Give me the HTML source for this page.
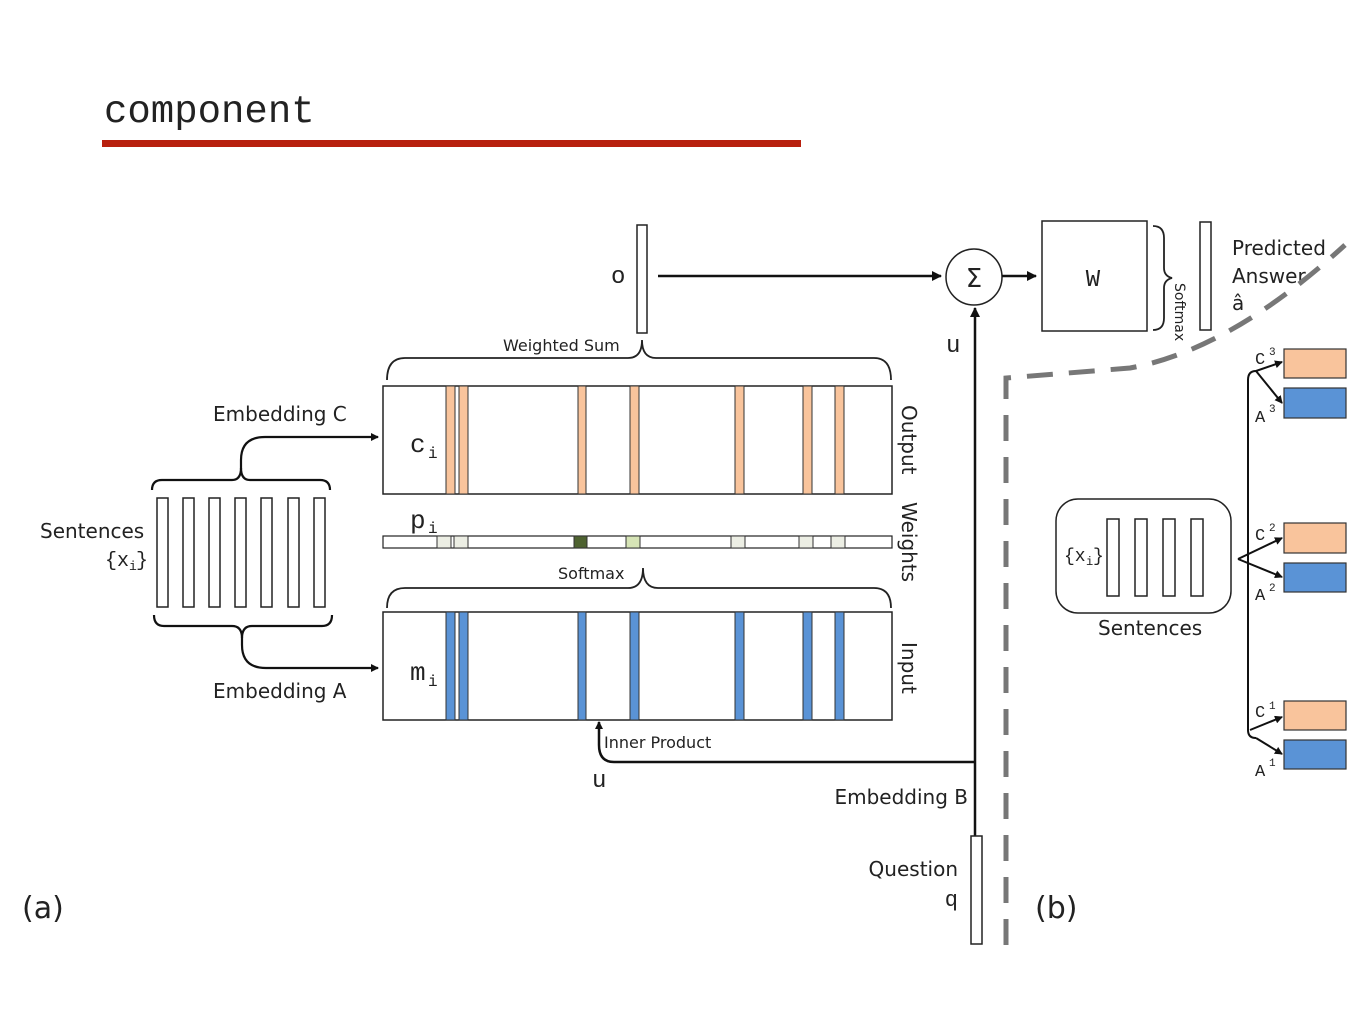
<!DOCTYPE html>
<html><head><meta charset="utf-8"><style>
html,body{margin:0;padding:0;background:#fff;}
svg{display:block;}
.s{font-family:"DejaVu Sans","Liberation Sans",sans-serif;fill:#222;}
.m{font-family:"Liberation Mono","DejaVu Sans Mono",monospace;fill:#222;}
</style></head><body>
<svg width="1365" height="1024" viewBox="0 0 1365 1024" xmlns="http://www.w3.org/2000/svg">
<defs>
<marker id="ar" markerWidth="10" markerHeight="10" refX="9" refY="5" orient="auto" markerUnits="userSpaceOnUse">
<path d="M0,0 L10,5 L0,10 z" fill="#111"/></marker>
<marker id="ar2" markerWidth="8" markerHeight="8" refX="7" refY="4" orient="auto" markerUnits="userSpaceOnUse">
<path d="M0,0 L8,4 L0,8 z" fill="#111"/></marker>
</defs>
<text x="104" y="122" class="m" font-size="39">component</text>
<rect x="102" y="140" width="699" height="7" fill="#b8200e"/>

<rect x="637" y="225" width="10" height="108" fill="#fff" stroke="#222" stroke-width="1.5"/>
<text x="611" y="283" class="m" font-size="24">o</text>
<line x1="658" y1="276" x2="941" y2="276" stroke="#111" stroke-width="2.5" marker-end="url(#ar)"/>
<circle cx="974" cy="277" r="28" fill="#fff" stroke="#222" stroke-width="1.5"/>
<text x="974" y="287" class="s" font-size="26" text-anchor="middle">Σ</text>
<line x1="1002" y1="276" x2="1036" y2="276" stroke="#111" stroke-width="2.5" marker-end="url(#ar)"/>
<rect x="1042" y="221" width="105" height="110" fill="#fff" stroke="#222" stroke-width="1.5"/>
<text x="1093" y="286" class="m" font-size="24" text-anchor="middle">W</text>
<path d="M1153,226 Q1164,226 1164,238 L1164,268 Q1164,276 1172,278 Q1164,280 1164,288 L1164,318 Q1164,330 1153,330" fill="none" stroke="#222" stroke-width="1.8"/>
<text transform="translate(1175,283) rotate(90)" class="s" font-size="14">Softmax</text>
<rect x="1200" y="222" width="11" height="108" fill="#fff" stroke="#222" stroke-width="1.5"/>
<text x="1232" y="255" class="s" font-size="20">Predicted</text>
<text x="1232" y="283" class="s" font-size="20">Answer</text>
<text x="1232" y="310" class="s" font-size="20">â</text>

<path d="M1006,945 L1006,378 L1130,368 Q1230,350 1345,245" fill="none" stroke="#777" stroke-width="5" stroke-dasharray="26 16"/>

<line x1="975" y1="836" x2="975" y2="308" stroke="#111" stroke-width="2.5" marker-end="url(#ar)"/>
<text x="946" y="352" class="m" font-size="24">u</text>
<rect x="971" y="836" width="11" height="108" fill="#fff" stroke="#222" stroke-width="1.5"/>
<text x="958" y="876" class="s" font-size="20" text-anchor="end">Question</text>
<text x="958" y="906" class="m" font-size="22" text-anchor="end">q</text>
<text x="968" y="804" class="s" font-size="20" text-anchor="end">Embedding B</text>
<path d="M975,762 L614,762 Q599,762 599,745 L599,722" fill="none" stroke="#111" stroke-width="2.5" marker-end="url(#ar2)"/>
<text x="604" y="748" class="s" font-size="16">Inner Product</text>
<text x="592" y="787" class="m" font-size="24">u</text>

<path d="M387,380 Q387,358 405,358 L628,358 Q642,358 642,340 Q642,358 656,358 L874,358 Q891,358 891,380" fill="none" stroke="#222" stroke-width="1.8"/>
<text x="503" y="351" class="s" font-size="16">Weighted Sum</text>

<rect x="383" y="386" width="509" height="108" fill="#fff" stroke="#222" stroke-width="1.5"/>
<g fill="#f9c49c" stroke="#333" stroke-width="1">
<rect x="446" y="386" width="9" height="108"/><rect x="459" y="386" width="9" height="108"/>
<rect x="578" y="386" width="8" height="108"/><rect x="630" y="386" width="9" height="108"/>
<rect x="735" y="386" width="9" height="108"/><rect x="803" y="386" width="9" height="108"/>
<rect x="835" y="386" width="9" height="108"/></g>
<text x="410" y="452" class="m" font-size="26">c</text><text x="428" y="458" class="m" font-size="16">i</text>

<rect x="383" y="536" width="509" height="12" fill="#fff" stroke="#222" stroke-width="1.2"/>
<g stroke="#333" stroke-width="1">
<rect x="437" y="536" width="14" height="12" fill="#eceee4"/><rect x="454" y="536" width="14" height="12" fill="#eceee4"/>
<rect x="574" y="536" width="13" height="12" fill="#4e6230"/><rect x="626" y="536" width="14" height="12" fill="#d6e4b6"/>
<rect x="731" y="536" width="14" height="12" fill="#eceee4"/><rect x="799" y="536" width="14" height="12" fill="#eceee4"/>
<rect x="831" y="536" width="14" height="12" fill="#eceee4"/></g>
<text x="410" y="528" class="m" font-size="26">p</text><text x="428" y="533" class="m" font-size="16">i</text>

<path d="M387,608 Q387,588 405,588 L628,588 Q643,588 643,568 Q643,588 658,588 L874,588 Q891,588 891,608" fill="none" stroke="#222" stroke-width="1.8"/>
<text x="558" y="579" class="s" font-size="16">Softmax</text>

<rect x="383" y="612" width="509" height="108" fill="#fff" stroke="#222" stroke-width="1.5"/>
<g fill="#5a93d6" stroke="#333" stroke-width="1">
<rect x="446" y="612" width="9" height="108"/><rect x="459" y="612" width="9" height="108"/>
<rect x="578" y="612" width="8" height="108"/><rect x="630" y="612" width="9" height="108"/>
<rect x="735" y="612" width="9" height="108"/><rect x="803" y="612" width="9" height="108"/>
<rect x="835" y="612" width="9" height="108"/></g>
<text x="410" y="680" class="m" font-size="26">m</text><text x="428" y="686" class="m" font-size="16">i</text>

<text transform="translate(902,405) rotate(90)" class="s" font-size="20">Output</text>
<text transform="translate(902,502) rotate(90)" class="s" font-size="20">Weights</text>
<text transform="translate(902,642) rotate(90)" class="s" font-size="20">Input</text>

<g fill="#fff" stroke="#222" stroke-width="1.5">
<rect x="157" y="498" width="11" height="109"/><rect x="183" y="498" width="11" height="109"/>
<rect x="209" y="498" width="11" height="109"/><rect x="235" y="498" width="11" height="109"/>
<rect x="261" y="498" width="11" height="109"/><rect x="288" y="498" width="11" height="109"/>
<rect x="314" y="498" width="11" height="109"/></g>
<path d="M152,490 Q152,480 162,480 L232,480 Q241,480 241,468 L241,460 Q241,437 265,437 L378,437" fill="none" stroke="#111" stroke-width="2.2" marker-end="url(#ar2)"/>
<path d="M241,468 Q241,480 250,480 L320,480 Q330,480 330,490" fill="none" stroke="#111" stroke-width="2.2"/>
<path d="M154,615 Q154,626 164,626 L232,626 Q242,626 242,638 L242,645 Q242,668 266,668 L378,668" fill="none" stroke="#111" stroke-width="2.2" marker-end="url(#ar2)"/>
<path d="M242,638 Q242,626 252,626 L322,626 Q332,626 332,615" fill="none" stroke="#111" stroke-width="2.2"/>
<text x="213" y="421" class="s" font-size="20">Embedding C</text>
<text x="213" y="698" class="s" font-size="20">Embedding A</text>
<text x="40" y="538" class="s" font-size="20">Sentences</text>
<text x="105" y="566" class="m" font-size="20">{x</text><text x="129" y="570" class="m" font-size="13">i</text><text x="136" y="566" class="m" font-size="20">}</text>

<text x="22" y="918" class="s" font-size="30">(a)</text>
<text x="1035" y="918" class="s" font-size="30">(b)</text>

<rect x="1056" y="499" width="175" height="114" rx="22" fill="#fff" stroke="#222" stroke-width="1.5"/>
<g fill="#fff" stroke="#222" stroke-width="1.5">
<rect x="1107" y="519" width="12" height="77"/><rect x="1135" y="519" width="12" height="77"/>
<rect x="1163" y="519" width="12" height="77"/><rect x="1191" y="519" width="12" height="77"/></g>
<text x="1064" y="561" class="m" font-size="18">{x</text><text x="1086" y="565" class="m" font-size="12">i</text><text x="1093" y="561" class="m" font-size="18">}</text>
<text x="1098" y="635" class="s" font-size="20">Sentences</text>

<path d="M1256,371 Q1248,371 1248,380 L1248,730 Q1248,738 1256,738" fill="none" stroke="#111" stroke-width="2"/>
<g stroke="#111" stroke-width="2" fill="none">
<line x1="1256" y1="371" x2="1282" y2="362" marker-end="url(#ar2)"/>
<line x1="1256" y1="371" x2="1282" y2="403" marker-end="url(#ar2)"/>
<line x1="1238" y1="559" x2="1282" y2="538" marker-end="url(#ar2)"/>
<line x1="1238" y1="559" x2="1282" y2="577" marker-end="url(#ar2)"/>
<line x1="1250" y1="730" x2="1282" y2="717" marker-end="url(#ar2)"/>
<line x1="1256" y1="738" x2="1282" y2="754" marker-end="url(#ar2)"/>
</g>
<g stroke="#333" stroke-width="1.2">
<rect x="1284" y="349" width="62" height="29" fill="#f9c49c"/><rect x="1284" y="388" width="62" height="30" fill="#5a93d6"/>
<rect x="1284" y="523" width="62" height="30" fill="#f9c49c"/><rect x="1284" y="563" width="62" height="29" fill="#5a93d6"/>
<rect x="1284" y="701" width="62" height="29" fill="#f9c49c"/><rect x="1284" y="740" width="62" height="29" fill="#5a93d6"/></g>
<g class="m" font-size="17">
<text x="1255" y="364">C</text><text x="1255" y="422">A</text>
<text x="1255" y="540">C</text><text x="1255" y="600">A</text>
<text x="1255" y="717">C</text><text x="1255" y="776">A</text></g>
<g class="m" font-size="11">
<text x="1269" y="355">3</text><text x="1269" y="412">3</text>
<text x="1269" y="531">2</text><text x="1269" y="591">2</text>
<text x="1269" y="709">1</text><text x="1269" y="766">1</text></g>
</svg>
</body></html>
